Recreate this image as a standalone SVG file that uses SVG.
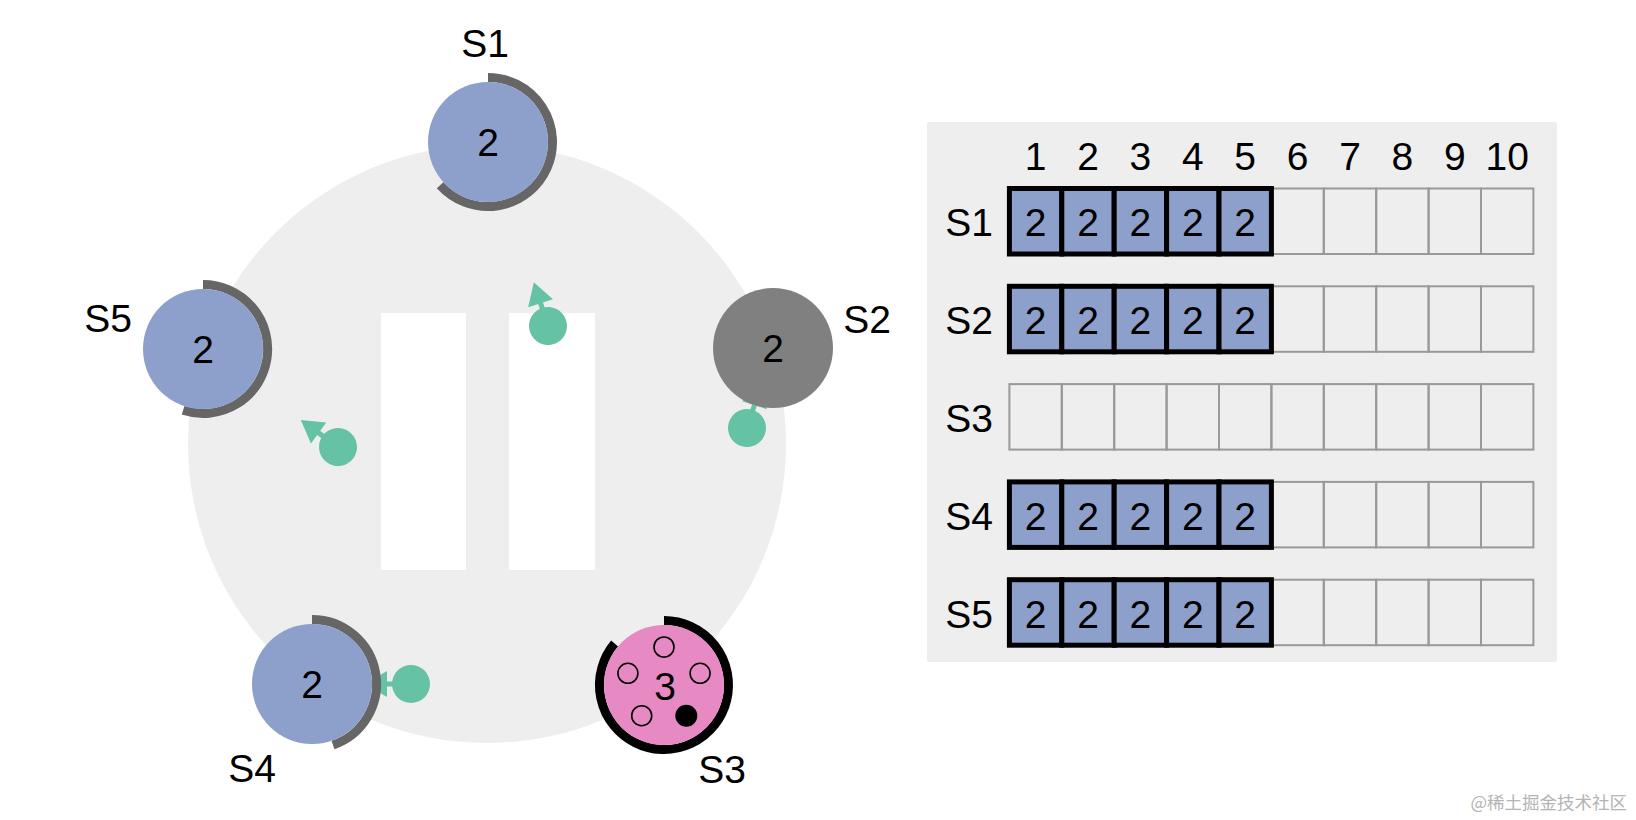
<svg xmlns="http://www.w3.org/2000/svg" width="1636" height="820" viewBox="0 0 1636 820">
<style>
text{font-family:"Liberation Sans",Arial,sans-serif;font-size:39px;fill:#000}
.c{text-anchor:middle}
.e{text-anchor:end}
.srv{fill:#8da0cb}
.arc{fill:none;stroke:#666;stroke-width:9}
.msg{fill:#66c2a4}
.cell{fill:none;stroke:#999;stroke-width:2}
.fcell{fill:#8da0cb;stroke:#000;stroke-width:5}
.vote{fill:none;stroke:#000;stroke-width:1.6}
</style>
<defs>
<g id="m">
<circle r="19" cx="0" cy="0"/>
<rect x="0" y="-2.5" width="27" height="5"/>
<polygon points="24,-13 46,0 24,13"/>
</g>
</defs>
<rect width="1636" height="820" fill="#fff"/>
<g id="ring">
<circle cx="487" cy="444" r="299" fill="#eeeeee"/>
<rect x="381" y="313" width="85" height="257" fill="#fff"/>
<rect x="509" y="313" width="86" height="257" fill="#fff"/>
</g>
<g id="messages" class="msg">
<use href="#m" transform="translate(548,326) rotate(-108)"/>
<use href="#m" transform="translate(338,447) rotate(-144)"/>
<use href="#m" transform="translate(411,684) rotate(180)"/>
<use href="#m" transform="translate(747,428) rotate(-72)"/>
</g>
<g id="S1">
<path class="arc" d="M488,77.5 A64.5,64.5 0 1 1 440.1,185.2"/>
<circle class="srv" cx="488" cy="142" r="60"/>
<text class="c" x="488" y="156">2</text>
<text class="c" x="485" y="57">S1</text>
</g>
<g id="S2">
<circle cx="773" cy="348" r="60" fill="#808080"/>
<text class="c" x="773" y="362">2</text>
<text class="c" x="867" y="333">S2</text>
</g>
<g id="S3">
<path d="M664,620.5 A64.5,64.5 0 1 1 614.6,643.5" fill="none" stroke="#000" stroke-width="9"/>
<circle cx="664" cy="685" r="60" fill="#e78ac3"/>
<circle class="vote" cx="664" cy="647" r="10"/>
<circle class="vote" cx="700.1" cy="673.3" r="10"/>
<circle cx="686.3" cy="715.7" r="11" fill="#000"/>
<circle class="vote" cx="641.7" cy="715.7" r="10"/>
<circle class="vote" cx="627.9" cy="673.3" r="10"/>
<text class="c" x="665" y="700">3</text>
<text class="c" x="722" y="783">S3</text>
</g>
<g id="S4">
<path class="arc" d="M312,619.5 A64.5,64.5 0 0 1 333,745"/>
<circle class="srv" cx="312" cy="684" r="60"/>
<text class="c" x="312" y="698">2</text>
<text class="c" x="252" y="782">S4</text>
</g>
<g id="S5">
<path class="arc" d="M203,284.5 A64.5,64.5 0 1 1 183.1,410.3"/>
<circle class="srv" cx="203" cy="349" r="60"/>
<text class="c" x="203" y="363">2</text>
<text class="c" x="108" y="332">S5</text>
</g>
<g id="log-table">
<rect x="927" y="122" width="630" height="540" rx="2" fill="#eeeeee"/>
<g id="headers">
<text class="c" x="1035.6" y="170">1</text>
<text class="c" x="1088" y="170">2</text>
<text class="c" x="1140.4" y="170">3</text>
<text class="c" x="1192.8" y="170">4</text>
<text class="c" x="1245.2" y="170">5</text>
<text class="c" x="1297.6" y="170">6</text>
<text class="c" x="1350" y="170">7</text>
<text class="c" x="1402.4" y="170">8</text>
<text class="c" x="1454.8" y="170">9</text>
<text class="c" x="1507.2" y="170">10</text>
</g>
<g id="row-labels">
<text class="e" x="993" y="236">S1</text>
<text class="e" x="993" y="334">S2</text>
<text class="e" x="993" y="432">S3</text>
<text class="e" x="993" y="530">S4</text>
<text class="e" x="993" y="628">S5</text>
</g>
<g id="empty-cells">
<rect class="cell" x="1219" y="188.5" width="52.4" height="65.5"/><rect class="cell" x="1271.4" y="188.5" width="52.4" height="65.5"/><rect class="cell" x="1323.8" y="188.5" width="52.4" height="65.5"/><rect class="cell" x="1376.2" y="188.5" width="52.4" height="65.5"/><rect class="cell" x="1428.6" y="188.5" width="52.4" height="65.5"/><rect class="cell" x="1481" y="188.5" width="52.4" height="65.5"/>
<rect class="cell" x="1219" y="286.3" width="52.4" height="65.5"/><rect class="cell" x="1271.4" y="286.3" width="52.4" height="65.5"/><rect class="cell" x="1323.8" y="286.3" width="52.4" height="65.5"/><rect class="cell" x="1376.2" y="286.3" width="52.4" height="65.5"/><rect class="cell" x="1428.6" y="286.3" width="52.4" height="65.5"/><rect class="cell" x="1481" y="286.3" width="52.4" height="65.5"/>
<rect class="cell" x="1009.4" y="384.1" width="52.4" height="65.5"/><rect class="cell" x="1061.8" y="384.1" width="52.4" height="65.5"/><rect class="cell" x="1114.2" y="384.1" width="52.4" height="65.5"/><rect class="cell" x="1166.6" y="384.1" width="52.4" height="65.5"/><rect class="cell" x="1219" y="384.1" width="52.4" height="65.5"/><rect class="cell" x="1271.4" y="384.1" width="52.4" height="65.5"/><rect class="cell" x="1323.8" y="384.1" width="52.4" height="65.5"/><rect class="cell" x="1376.2" y="384.1" width="52.4" height="65.5"/><rect class="cell" x="1428.6" y="384.1" width="52.4" height="65.5"/><rect class="cell" x="1481" y="384.1" width="52.4" height="65.5"/>
<rect class="cell" x="1219" y="481.9" width="52.4" height="65.5"/><rect class="cell" x="1271.4" y="481.9" width="52.4" height="65.5"/><rect class="cell" x="1323.8" y="481.9" width="52.4" height="65.5"/><rect class="cell" x="1376.2" y="481.9" width="52.4" height="65.5"/><rect class="cell" x="1428.6" y="481.9" width="52.4" height="65.5"/><rect class="cell" x="1481" y="481.9" width="52.4" height="65.5"/>
<rect class="cell" x="1219" y="579.7" width="52.4" height="65.5"/><rect class="cell" x="1271.4" y="579.7" width="52.4" height="65.5"/><rect class="cell" x="1323.8" y="579.7" width="52.4" height="65.5"/><rect class="cell" x="1376.2" y="579.7" width="52.4" height="65.5"/><rect class="cell" x="1428.6" y="579.7" width="52.4" height="65.5"/><rect class="cell" x="1481" y="579.7" width="52.4" height="65.5"/>
</g>
<g id="row-S1">
<rect class="fcell" x="1009.4" y="188.5" width="52.4" height="65.5"/><rect class="fcell" x="1061.8" y="188.5" width="52.4" height="65.5"/><rect class="fcell" x="1114.2" y="188.5" width="52.4" height="65.5"/><rect class="fcell" x="1166.6" y="188.5" width="52.4" height="65.5"/><rect class="fcell" x="1219" y="188.5" width="52.4" height="65.5"/>
<text class="c" x="1035.6" y="236">2</text><text class="c" x="1088" y="236">2</text><text class="c" x="1140.4" y="236">2</text><text class="c" x="1192.8" y="236">2</text><text class="c" x="1245.2" y="236">2</text>
</g>
<g id="row-S2">
<rect class="fcell" x="1009.4" y="286.3" width="52.4" height="65.5"/><rect class="fcell" x="1061.8" y="286.3" width="52.4" height="65.5"/><rect class="fcell" x="1114.2" y="286.3" width="52.4" height="65.5"/><rect class="fcell" x="1166.6" y="286.3" width="52.4" height="65.5"/><rect class="fcell" x="1219" y="286.3" width="52.4" height="65.5"/>
<text class="c" x="1035.6" y="334">2</text><text class="c" x="1088" y="334">2</text><text class="c" x="1140.4" y="334">2</text><text class="c" x="1192.8" y="334">2</text><text class="c" x="1245.2" y="334">2</text>
</g>
<g id="row-S4">
<rect class="fcell" x="1009.4" y="481.9" width="52.4" height="65.5"/><rect class="fcell" x="1061.8" y="481.9" width="52.4" height="65.5"/><rect class="fcell" x="1114.2" y="481.9" width="52.4" height="65.5"/><rect class="fcell" x="1166.6" y="481.9" width="52.4" height="65.5"/><rect class="fcell" x="1219" y="481.9" width="52.4" height="65.5"/>
<text class="c" x="1035.6" y="530">2</text><text class="c" x="1088" y="530">2</text><text class="c" x="1140.4" y="530">2</text><text class="c" x="1192.8" y="530">2</text><text class="c" x="1245.2" y="530">2</text>
</g>
<g id="row-S5">
<rect class="fcell" x="1009.4" y="579.7" width="52.4" height="65.5"/><rect class="fcell" x="1061.8" y="579.7" width="52.4" height="65.5"/><rect class="fcell" x="1114.2" y="579.7" width="52.4" height="65.5"/><rect class="fcell" x="1166.6" y="579.7" width="52.4" height="65.5"/><rect class="fcell" x="1219" y="579.7" width="52.4" height="65.5"/>
<text class="c" x="1035.6" y="628">2</text><text class="c" x="1088" y="628">2</text><text class="c" x="1140.4" y="628">2</text><text class="c" x="1192.8" y="628">2</text><text class="c" x="1245.2" y="628">2</text>
</g>
</g>
<text x="1627" y="809" style="font-family:'Noto Sans CJK SC',sans-serif;font-size:17.5px;fill:#b4b4b4;text-anchor:end">@稀土掘金技术社区</text>
</svg>
